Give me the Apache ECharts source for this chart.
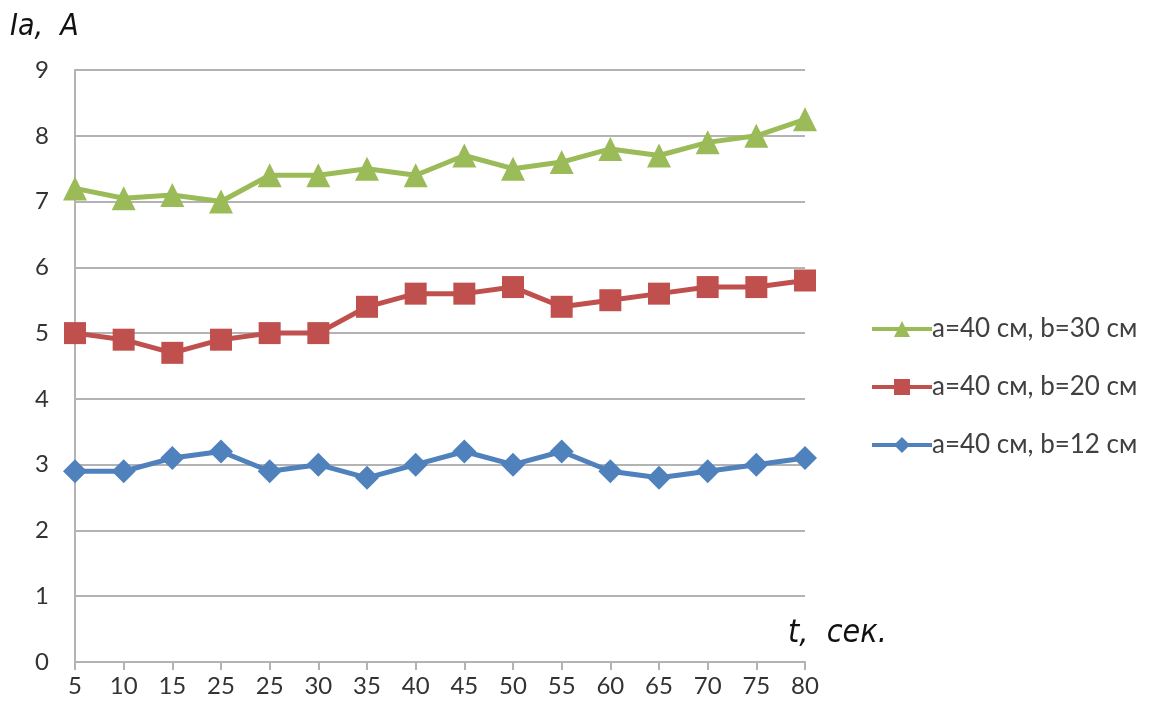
<!DOCTYPE html>
<html>
<head>
<meta charset="utf-8">
<script src="https://cdn.jsdelivr.net/npm/echarts@6/dist/echarts.min.js"></script>
<style>
  html, body { margin: 0; padding: 0; background: #fff; }
  #chart { width: 1157px; height: 710px; }
</style>
</head>
<body>
<div id="chart"></div>
<script>
// Time marks along the x axis (seconds)
const timeLabels = ['5', '10', '15', '25', '25', '30', '35', '40', '45', '50', '55', '60', '65', '70', '75', '80'];

// Current Ia (A) for each electrode geometry
const seriesB30 = [7.2, 7.05, 7.1, 7.0, 7.4, 7.4, 7.5, 7.4, 7.7, 7.5, 7.6, 7.8, 7.7, 7.9, 8.0, 8.25];
const seriesB20 = [5.0, 4.9, 4.7, 4.9, 5.0, 5.0, 5.4, 5.6, 5.6, 5.7, 5.4, 5.5, 5.6, 5.7, 5.7, 5.8];
const seriesB12 = [2.9, 2.9, 3.1, 3.2, 2.9, 3.0, 2.8, 3.0, 3.2, 3.0, 3.2, 2.9, 2.8, 2.9, 3.0, 3.1];

const namesList = ['a=40 см, b=30 см', 'a=40 см, b=20 см', 'a=40 см, b=12 см'];

const labelFont = 'Lato, "Open Sans", sans-serif';
const axisGray = '#b3b3b3';

function lineSeries(name, data, color, symbol, size) {
  return {
    name: name,
    type: 'line',
    data: data,
    symbol: symbol,
    symbolSize: size,
    lineStyle: { color: color, width: 5 },
    itemStyle: { color: color },
    emphasis: { disabled: true },
    z: 3
  };
}

const chart = echarts.init(document.getElementById('chart'));
chart.setOption({
  animation: false,
  backgroundColor: '#ffffff',
  grid: { left: 75, right: 352, top: 70, bottom: 48, containLabel: false },
  legend: {
    orient: 'vertical',
    left: 865,
    top: 310,
    itemWidth: 60,
    itemHeight: 20,
    itemGap: 30,
    data: namesList,
    lineStyle: { width: 4 },
    textStyle: { fontFamily: labelFont, fontSize: 26, lineHeight: 28, color: '#404040', padding: [0, 0, 0, -5] }
  },
  xAxis: {
    type: 'category',
    data: timeLabels,
    boundaryGap: false,
    axisLine: { lineStyle: { color: axisGray, width: 2 } },
    axisTick: { show: true, length: 8, lineStyle: { color: axisGray, width: 2 } },
    axisLabel: { fontFamily: labelFont, fontSize: 24, color: '#333', margin: 12 },
    splitLine: { show: false }
  },
  yAxis: {
    type: 'value',
    min: 0,
    max: 9,
    interval: 1,
    axisLine: { show: true, lineStyle: { color: axisGray, width: 2 } },
    axisTick: { show: false },
    axisLabel: { fontFamily: labelFont, fontSize: 24, color: '#333', margin: 26 },
    splitLine: { lineStyle: { color: axisGray, width: 2 } }
  },
  graphic: [
    {
      type: 'text',
      left: 10,
      top: 12,
      style: { text: 'Ia,  A', font: 'italic 30px "DejaVu Sans Condensed", "DejaVu Sans", sans-serif', fill: '#111' }
    },
    {
      type: 'text',
      left: 788,
      top: 618,
      style: { text: 't,  сек.', font: 'italic 32px "DejaVu Sans Condensed", "DejaVu Sans", sans-serif', fill: '#111' }
    }
  ],
  series: [
    lineSeries(namesList[0], seriesB30, '#9bbb59', 'triangle', 24),
    lineSeries(namesList[1], seriesB20, '#c0504d', 'rect', 22),
    lineSeries(namesList[2], seriesB12, '#4f81bd', 'diamond', 24)
  ]
});
</script>
</body>
</html>
